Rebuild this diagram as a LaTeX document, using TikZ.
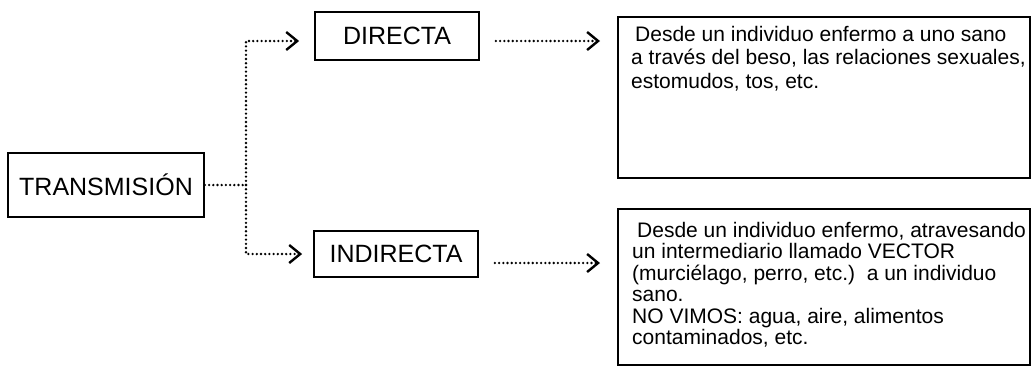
\documentclass[tikz,border=0pt]{standalone}
\usepackage{fontspec}
\setmainfont{Liberation Sans}
\usetikzlibrary{arrows.meta,positioning}

\tikzset{
  caja/.style={draw, line width=1.8pt, inner sep=0pt, font=\fontsize{25}{29}\selectfont},
  marco/.style={draw, line width=1.8pt, inner sep=0pt},
  texto/.style={anchor=north west, inner sep=0pt, align=left},
  puntos/.style={line width=2.6pt, dash pattern=on 0pt off 4.2pt, line cap=round},
  flecha/.style={puntos, -{Straight Barb[length=11pt,width=18pt,line width=2.4pt]}}
}

\begin{document}
\begin{tikzpicture}[x=1pt,y=-1pt]
\useasboundingbox (0,0) rectangle (1032,365);

% los tres conceptos
\node[caja, minimum width=196, minimum height=64] (trans) at (106,185) {TRANSMISIÓN};
\node[caja, minimum width=164, minimum height=48] (directa) at (397,36) {DIRECTA};
\node[caja, minimum width=164, minimum height=46] (indirecta) at (396,254) {INDIRECTA};

% recuadros de la derecha
\node[marco, minimum width=412, minimum height=161, anchor=north west] (desc1) at (617,16) {};
\node[marco, minimum width=412, minimum height=156, anchor=north west] (desc2) at (617,208) {};
\node[texto, font=\fontsize{21}{23.5}\selectfont] (txt1) at ([xshift=14,yshift=-10]desc1.north west)
  {\hspace{4pt}Desde un individuo enfermo a uno sano\\
   a través del beso, las relaciones sexuales,\\
   estomudos, tos, etc.};
\node[texto, font=\fontsize{21}{21.5}\selectfont] (txt2) at ([xshift=15,yshift=-14]desc2.north west)
  {\hspace{5pt}Desde un individuo enfermo, atravesando\\
   un intermediario llamado VECTOR\\
   (murciélago, perro, etc.)\ \ a un individuo\\
   sano.\\
   NO VIMOS: agua, aire, alimentos\\
   contaminados, etc.};

% conexiones
\coordinate (fork) at (246,185);
\draw[puntos] (trans.east) -- (fork);
\draw[flecha, shorten >=15pt] (fork) |- ([yshift=-5]directa.west);
\draw[flecha, shorten >=11pt] (fork) |- (indirecta.west);
\draw[flecha, shorten <=16pt, shorten >=17pt] ([yshift=-5]directa.east) -- ([yshift=-5]directa.east -| desc1.west);
\draw[flecha, shorten <=16pt, shorten >=17pt] ([yshift=-9]indirecta.east) -- ([yshift=-9]indirecta.east -| desc2.west);
\end{tikzpicture}
\end{document}
